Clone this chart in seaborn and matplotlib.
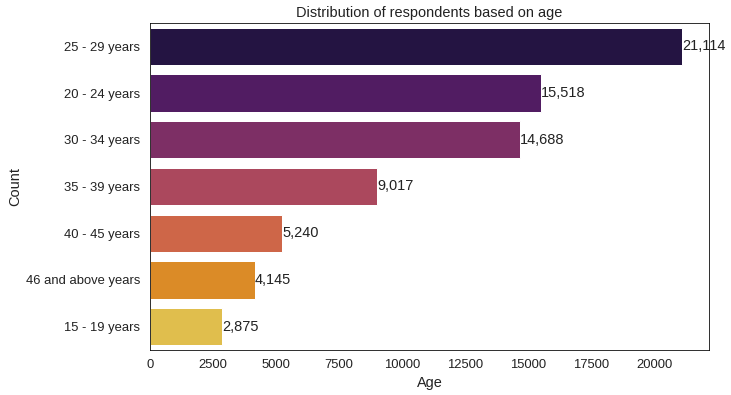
import matplotlib
matplotlib.use("Agg")
import matplotlib.pyplot as plt
import seaborn as sns
import pandas as pd

age_groups = ["25 - 29 years", "20 - 24 years", "30 - 34 years", "35 - 39 years",
              "40 - 45 years", "46 and above years", "15 - 19 years"]
counts = [21114, 15518, 14688, 9017, 5240, 4145, 2875]

df = pd.DataFrame({"age": age_groups, "count": counts})

sns.set_theme(style="white", font_scale=1.2)
plt.rcParams["font.family"] = ["Liberation Sans", "DejaVu Sans"]

fig = plt.figure(figsize=(731 / 72, 395 / 72), dpi=72)
ax = fig.add_axes([150 / 731, 1 - 350 / 395, 559 / 731, 327 / 395])

sns.barplot(data=df, x="count", y="age", hue="age", palette="inferno",
            legend=False, ax=ax)
for c in ax.containers:
    ax.bar_label(c, fmt="{:,.0f}", fontsize=14.5, padding=0, color="#222222")

ax.set_title("Distribution of respondents based on age", fontsize=14.5, color="#222222")
ax.set_xlabel("Age", fontsize=14.5, color="#222222")
ax.set_ylabel("Count", fontsize=14.5, color="#222222")
ax.tick_params(labelsize=13, labelcolor="#222222")
for s in ax.spines.values():
    s.set_color("black")
    s.set_linewidth(0.8)

fig.savefig("out.png", dpi=72)
